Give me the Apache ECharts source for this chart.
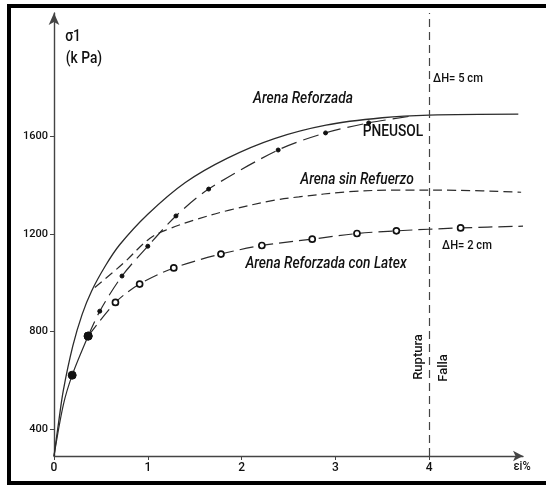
<!DOCTYPE html>
<html><head><meta charset="utf-8">
<script src="https://cdn.jsdelivr.net/npm/echarts@6/dist/echarts.min.js"></script>
<style>html,body{margin:0;padding:0;background:#fff}#c{width:546px;height:485px}</style>
</head><body><div id="c"></div>
<script>
// Strain εi (%) against major principal stress σ1 (kPa) for the sand tests
const xTicks = [0, 1, 2, 3, 4];
const yTicks = [400, 800, 1200, 1600];

const reforzada = [[0,290],[0.05,430],[0.1,560],[0.2,740],[0.3,870],[0.4,965],[0.55,1070],[0.7,1155],[1.0,1280],[1.4,1410],[1.85,1510],[2.35,1590],[2.9,1645],[3.5,1675],[4.0,1686],[4.95,1690]];

const pneusol = [[0.364,781],[0.488,883],[0.725,1027],[1.0,1149],[1.3,1273],[1.649,1383],[2.39,1543],[2.895,1613],[3.355,1654],[3.85,1684]];
const pneusolDots = [false,true,true,true,true,true,true,true,true,false];

const sinRefuerzo = [[0.435,980],[0.736,1078],[1.02,1181],[1.213,1218],[1.51,1258],[1.87,1297],[2.36,1338],[2.61,1351],[3.14,1372],[3.67,1379],[4.3,1378],[4.98,1370]];

const latex = [[0,290],[0.1,500],[0.194,621],[0.364,781],[0.655,919],[0.913,994],[1.277,1060],[1.78,1117],[2.216,1152],[2.753,1178],[3.23,1201],[3.65,1212],[4.335,1224],[5.0,1231]];
const latexMarks = ['','','solid','solid','open','open','open','open','open','open','open','open','open',''];

const failureStrain = 4;

const FONT = "Roboto,'Noto Sans',sans-serif";
const INK = '#2b2b2b';

function markedData(points, kinds) {
  return points.map((p, i) => {
    const k = kinds[i];
    if (k === 'solid') return { value: p, symbol: 'circle', symbolSize: 8, itemStyle: { color: '#111', borderColor: '#111' } };
    if (k === 'open') return { value: p, symbol: 'circle', symbolSize: 6, itemStyle: { color: '#fff', borderColor: '#111', borderWidth: 1.7 } };
    if (k === true) return { value: p, symbol: 'circle', symbolSize: 4, itemStyle: { color: '#111', borderColor: '#111' } };
    return { value: p, symbol: 'none' };
  });
}

const latexData = markedData(latex, latexMarks);

// condensed-looking annotation text: horizontally squeezed Roboto
function label(text, x, y, opts) {
  opts = opts || {};
  const sx = opts.sx || 0.86;
  return {
    type: 'text', x: x, y: y, rotation: opts.rot || 0, scaleX: sx, scaleY: 1, z: 10,
    style: {
      text: text, x: 0, y: 0,
      fontFamily: FONT,
      fontSize: opts.size || 15,
      fontStyle: opts.italic ? 'italic' : 'normal',
      fontWeight: 500,
      fill: '#111',
      align: 'center', verticalAlign: 'middle',
      textAlign: 'center', textVerticalAlign: 'middle'
    }
  };
}

const chart = echarts.init(document.getElementById('c'), null, { renderer: 'canvas' });
chart.setOption({
  animation: false,
  backgroundColor: '#fff',
  grid: { left: 54, right: 23, top: 13, bottom: 29 },
  xAxis: {
    type: 'value', min: 0, max: 5,
    splitLine: { show: false },
    axisLine: { lineStyle: { color: '#444', width: 1.4 }, symbol: ['none', 'arrow'], symbolSize: [8, 10] },
    axisTick: { length: 4, lineStyle: { color: '#444' }, customValues: xTicks },
    axisLabel: { customValues: xTicks, color: '#111', fontFamily: FONT, fontWeight: 500, fontSize: 12, margin: 6, formatter: v => String(v) }
  },
  yAxis: {
    type: 'value', min: 290, max: 2104,
    splitLine: { show: false },
    axisLine: { lineStyle: { color: '#444', width: 1.4 }, symbol: ['none', 'arrow'], symbolSize: [8, 12] },
    axisTick: { length: 4, lineStyle: { color: '#444' }, customValues: yTicks },
    axisLabel: { customValues: yTicks, color: '#111', fontFamily: FONT, fontWeight: 500, fontSize: 11, margin: 6, formatter: v => String(v) }
  },
  series: [
    {
      name: 'Arena Reforzada', type: 'line', data: reforzada, smooth: 0.35,
      symbol: 'none', lineStyle: { color: INK, width: 1.3 }, z: 3,
      markLine: {
        silent: true, symbol: 'none', label: { show: false },
        lineStyle: { color: '#444', width: 1.2, type: [8, 5] },
        data: [{ xAxis: failureStrain }]
      }
    },
    {
      name: 'PNEUSOL', type: 'line', data: markedData(pneusol, pneusolDots), smooth: 0.3,
      lineStyle: { color: INK, width: 1.2, type: [16, 7] }, z: 4
    },
    {
      name: 'Arena sin Refuerzo', type: 'line', data: sinRefuerzo, smooth: 0.35,
      symbol: 'none', lineStyle: { color: INK, width: 1.2, type: [9, 5] }, z: 3
    },
    {
      name: 'Latex inicial', type: 'line', data: latexData.slice(0, 4), smooth: 0.3,
      lineStyle: { color: INK, width: 1.2 }, z: 5
    },
    {
      name: 'Arena Reforzada con Latex', type: 'line', data: latexData.slice(3), smooth: 0.3,
      lineStyle: { color: INK, width: 1.2, type: [14, 6] }, z: 5
    }
  ],
  graphic: [
    { type: 'rect', shape: { x: 7, y: 4, width: 4, height: 481 }, style: { fill: '#000' }, z: 20 },
    { type: 'rect', shape: { x: 7, y: 4, width: 539, height: 4 }, style: { fill: '#000' }, z: 20 },
    { type: 'rect', shape: { x: 7, y: 481, width: 539, height: 4 }, style: { fill: '#000' }, z: 20 },
    label('σ1', 73, 37, { size: 16 }),
    label('(k Pa)', 84, 59, { size: 16 }),
    label('εi%', 522, 467, { size: 13 }),
    label('Arena Reforzada', 303, 99, { italic: true, size: 16 }),
    label('PNEUSOL', 393, 132, { size: 16 }),
    label('Arena sin Refuerzo', 357, 180, { italic: true, size: 16 }),
    label('Arena Reforzada con Latex', 326, 264, { italic: true, size: 16 }),
    label('ΔH= 5 cm', 458, 79, { size: 13 }),
    label('ΔH= 2 cm', 467, 246, { size: 13 }),
    label('Ruptura', 419, 357, { size: 13, rot: Math.PI / 2, sx: 1 }),
    label('Falla', 444, 368, { size: 13, rot: Math.PI / 2, sx: 1 })
  ]
});
</script>
</body></html>
